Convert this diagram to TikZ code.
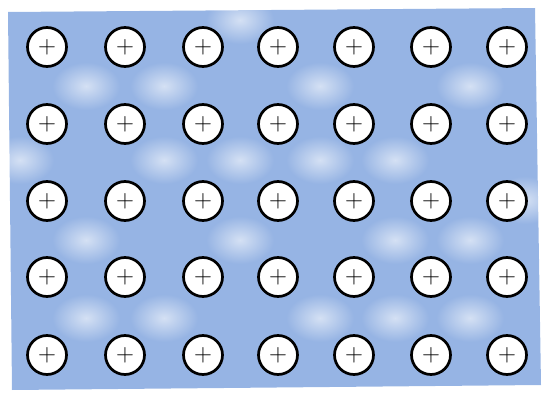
\documentclass[tikz,border=0pt]{standalone}
\usetikzlibrary{fadings}
\definecolor{bgblue}{RGB}{150,180,228}
\tikzfading[name=softblob, inner color=transparent!20, outer color=transparent!100]
\tikzset{
  ion/.style={circle, draw=black, line width=2.7pt, fill=white, minimum size=39pt, inner sep=0pt, font=\fontsize{28}{28}\selectfont},
  blob/.style={fill=white, path fading=softblob, fill opacity=0.75}
}
\begin{document}
\begin{tikzpicture}[x=1pt,y=-1pt]
\useasboundingbox (0,0) rectangle (544,396);
\fill[bgblue] (8,12) -- (535,8) -- (541,385) -- (12,390) -- cycle;
% lighter mottled patches
\foreach \px/\py in {86/86, 164/86, 240/160, 320/86, 395/160, 470/86, 86/240, 164/318, 240/240, 320/318, 395/240, 470/318, 240/20, 470/240, 164/160, 86/318, 320/160, 395/318, 20/160, 525/200}{
  \fill[blob] (\px-34,\py-24) rectangle (\px+34,\py+24);
}
\foreach \c [count=\i] in {47,125,203,278,354,431,507}{
  \foreach \r [count=\j] in {47,124,201,277,355}{
    \node[ion] (n\i-\j) at (\c,\r) {$+$};
  }
}
\end{tikzpicture}
\end{document}
